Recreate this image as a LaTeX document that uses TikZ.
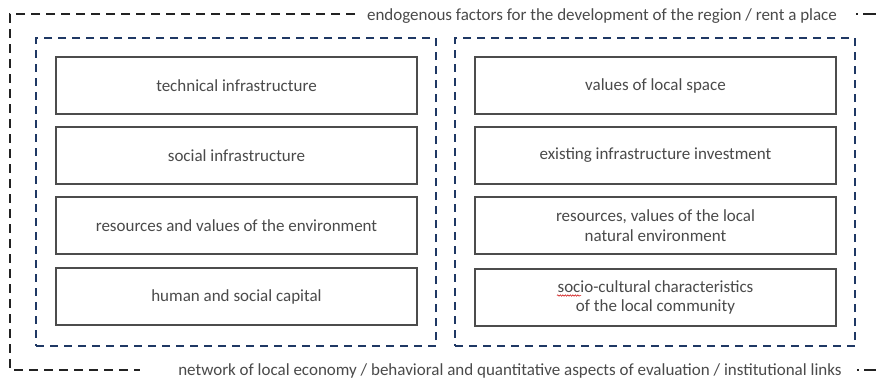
\documentclass[tikz,border=0pt]{standalone}
\usepackage{fontspec}
\setmainfont{Carlito}
\usetikzlibrary{decorations.pathmorphing}
\definecolor{navy}{HTML}{1F3864}
\definecolor{txt}{HTML}{4A4A4A}
\definecolor{frame}{HTML}{222222}
\begin{document}
\begin{tikzpicture}[x=1pt,y=-1pt,
  factorbox/.style={draw=black!70, line width=1.1pt, minimum width=361pt, minimum height=57pt,
    inner sep=0pt, align=center, text=txt, font=\fontsize{17}{19.5}\selectfont},
  groupbox/.style={draw=navy, line width=1.8pt, dash pattern=on 8pt off 6pt,
    minimum width=400pt, minimum height=308pt, inner sep=0pt},
  outerline/.style={draw=frame, line width=1.3pt, dash pattern=on 9pt off 6pt},
  label/.style={text=txt, font=\fontsize{17}{19}\selectfont, inner sep=0pt, anchor=base}]
\useasboundingbox (0,0) rectangle (876,384);
\fill[white] (0,0) rectangle (876,384);
% group frames
\node[groupbox] (GL) at (236,192) {};
\node[groupbox] (GR) at (655,192) {};
% left column
\node[factorbox] (l1) at (236.5,85.5) {technical infrastructure};
\node[factorbox] (l2) at (236.5,155.5) {social infrastructure};
\node[factorbox] (l3) at (236.5,225.5) {resources and values of the environment};
\node[factorbox] (l4) at (236.5,296.5) {human and social capital};
% right column
\node[factorbox] (r1) at (655.5,85.5) {values of local space};
\node[factorbox] (r2) at (655.5,155.5) {existing infrastructure investment};
\node[factorbox] (r3) at (655.5,225.5) {resources, values of the local\\natural environment};
\node[factorbox] (r4) at (655.5,297.5) {socio-cultural characteristics\\of the local community};
% labels
\node[label] (top) at (602,20) {endogenous factors for the development of the region / rent a place};
\node[label] (bot) at (510,375) {network of local economy / behavioral and quantitative aspects of evaluation / institutional links};
% outer frame
\coordinate (t1) at (355,14);
\coordinate (tl) at (10,14);
\coordinate (bl) at (10,370);
\coordinate (b1) at (140,370);
\coordinate (t2) at (856,14);
\coordinate (t3) at (876,14);
\coordinate (b2) at (857,370);
\coordinate (b3) at (876,370);
\draw[outerline] (t1) -- (tl) -- (bl) -- (b1);
\draw[outerline, dash pattern=on 2pt off 5pt on 14pt] (t2) -- (t3);
\draw[outerline, dash pattern=on 2pt off 5pt on 14pt] (b2) -- (b3);
% spell-check squiggle
\coordinate (sq1) at (557,295.5);
\coordinate (sq2) at (581,295.5);
\draw[red!80!black, line width=0.5pt, decorate, decoration={snake, amplitude=0.7pt, segment length=2.5pt}] (sq1) -- (sq2);
\end{tikzpicture}
\end{document}
